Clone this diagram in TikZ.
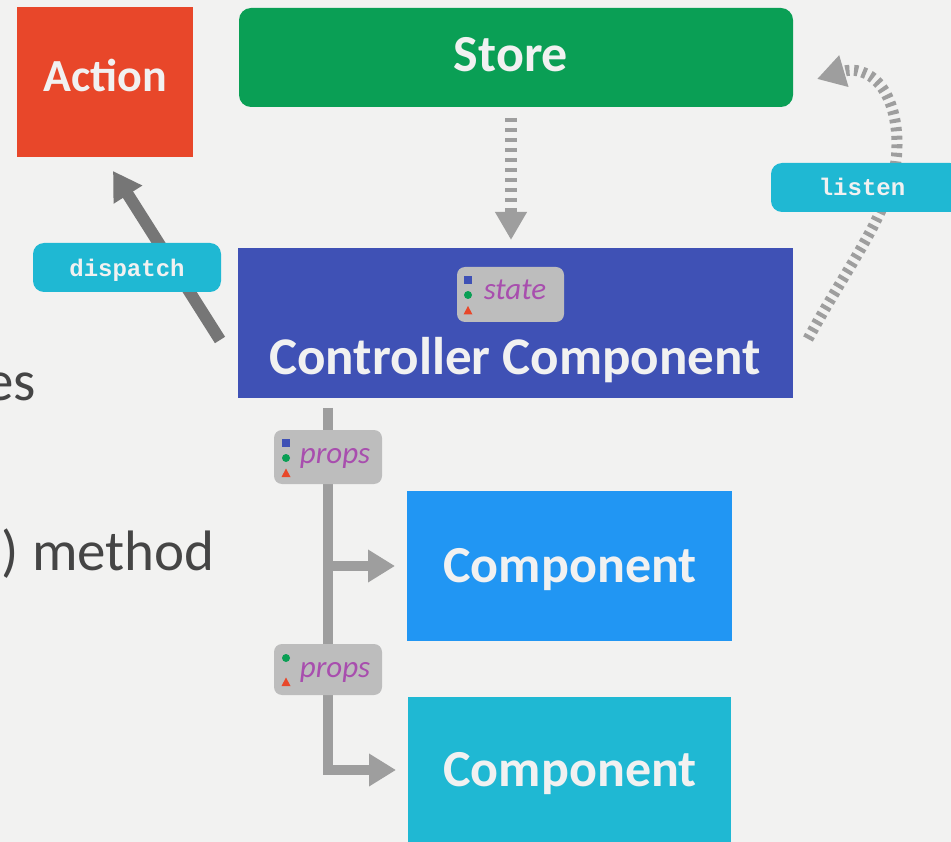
\documentclass[tikz,border=0pt]{standalone}
\usepackage{fontspec}
\setmainfont{Carlito}
\newfontfamily\codefont{Liberation Mono}
\usetikzlibrary{arrows.meta,calc}
\definecolor{bg}{HTML}{F2F2F1}
\definecolor{actred}{HTML}{E8472A}
\definecolor{storegreen}{HTML}{0A9F55}
\definecolor{ctrlblue}{HTML}{3F51B5}
\definecolor{compblue}{HTML}{2196F3}
\definecolor{compcyan}{HTML}{1FB8D3}
\definecolor{badgegray}{HTML}{BDBDBD}
\definecolor{propspurple}{HTML}{A84EAE}
\definecolor{linegray}{HTML}{9E9E9E}
\definecolor{darkline}{HTML}{767676}
\definecolor{boxtext}{HTML}{F1F1F1}
\definecolor{sidetext}{HTML}{454545}
\begin{document}
\begin{tikzpicture}[x=1pt,y=-1pt,
  box/.style={inner sep=0pt, outer sep=0pt},
  boxlabel/.style={inner sep=0pt, anchor=base, text=boxtext, font=\fontsize{52}{60}\selectfont\bfseries},
  badge/.style={fill=badgegray, rounded corners=8pt, inner sep=0pt, outer sep=0pt},
  badgetext/.style={inner sep=0pt, anchor=base, text=propspurple, font=\fontsize{31}{36}\selectfont\itshape},
  tag/.style={fill=compcyan, rounded corners=11pt, inner sep=0pt, outer sep=0pt},
  tagtext/.style={inner sep=0pt, anchor=base, text=boxtext, font=\codefont\fontsize{24}{28}\selectfont\bfseries},
  sidelabel/.style={inner sep=0pt, anchor=base east, text=sidetext, font=\fontsize{57}{64}\selectfont},
  flow/.style={draw=linegray, line width=10pt, -{Triangle[width=31pt,length=27pt]}},
  dotflow/.style={draw=linegray, line width=12pt, dash pattern=on 4pt off 6pt, -{Triangle[width=30pt,length=28pt]}},
  sq/.style={fill=ctrlblue},
  dot/.style={fill=storegreen},
  tri/.style={fill=actred}
]
\fill[bg] (0,0) rectangle (951,842);
\useasboundingbox (0,0) rectangle (951,842);

% side text (partly cut off, as in the reference)
\node[sidelabel] (es) at (36,400) {es};
\node[sidelabel] (meth) at (215,570) {) method};

% boxes
\node[box, fill=actred, minimum width=176pt, minimum height=150pt] (action) at (105,82) {};
\node[boxlabel, font=\fontsize{46}{54}\selectfont\bfseries] (actiont) at (105,92) {Action};

\node[box, fill=storegreen, rounded corners=12pt, minimum width=554pt, minimum height=99pt] (store) at (516,57.5) {};
\node[boxlabel] (storet) at (511,72) {Store};

\node[box, fill=ctrlblue, minimum width=555pt, minimum height=150pt] (ctrl) at (515.5,323) {};
\node[boxlabel, font=\fontsize{53}{60}\selectfont\bfseries] (ctrlt) at (515,374) {Controller Component};

\node[box, fill=compblue, minimum width=325pt, minimum height=150pt] (comp1) at (569.5,566) {};
\node[boxlabel] (comp1t) at (570,582) {Component};

\node[box, fill=compcyan, minimum width=323pt, minimum height=146pt] (comp2) at (569.5,770) {};
\node[boxlabel] (comp2t) at (570,786) {Component};

% store -> controller (dotted)
\coordinate (sa) at (511,118);
\coordinate (sb) at (511,240);
\draw[dotflow] (sa) -- (sb);

% dispatch arrow
\coordinate (da) at (220,340);
\coordinate (db) at (113,171);
\draw[draw=darkline, line width=12pt, -{Triangle[width=32pt,length=28pt]}] (da) -- (db);

% listen arrow
\coordinate (la) at (808,339);
\coordinate (lb) at (817,79);
\draw[draw=linegray, line width=11pt, dash pattern=on 4pt off 4.5pt, -{Triangle[width=31pt,length=28pt]}]
  (la) .. controls (852,258) and (897,205) .. (897,145) .. controls (897,88) and (868,64) .. (lb);

% trunk and branches
\coordinate (t0) at (328,408);
\draw[flow] (t0) |- ([xshift=-12pt]comp2.west);
\draw[flow] (t0 |- comp1.west) -- ([xshift=-12pt]comp1.west);

% tags
\node[tag, minimum width=188pt, minimum height=49pt] (dispatch) at (127,267.5) {};
\node[tagtext] (dispatcht) at (127,277) {dispatch};
\node[tag, minimum width=190pt, minimum height=49pt] (listen) at (866,187.5) {};
\node[tagtext] (listent) at (862,196) {listen};

% state badge
\node[badge, minimum width=107pt, minimum height=55pt] (stateb) at (510.5,294.5) {};
\node[badgetext] (statet) at (515,300) {state};
\fill[sq] (464,276) rectangle (472,284);
\fill[dot] (468,295) circle (4pt);
\fill[tri] (463.5,314.5) -- (472.5,314.5) -- (468,306) -- cycle;

% props badge 1
\node[badge, minimum width=108pt, minimum height=54pt] (props1) at (328,457) {};
\node[badgetext] (props1t) at (335,463) {props};
\fill[sq] (282,439) rectangle (290,447);
\fill[dot] (286,458) circle (4pt);
\fill[tri] (281.5,477) -- (290.5,477) -- (286,468.5) -- cycle;

% props badge 2
\node[badge, minimum width=108pt, minimum height=51pt] (props2) at (328,669.5) {};
\node[badgetext] (props2t) at (335,677) {props};
\fill[dot] (286,658) circle (4pt);
\fill[tri] (281.5,686) -- (290.5,686) -- (286,677.5) -- cycle;
\end{tikzpicture}
\end{document}
